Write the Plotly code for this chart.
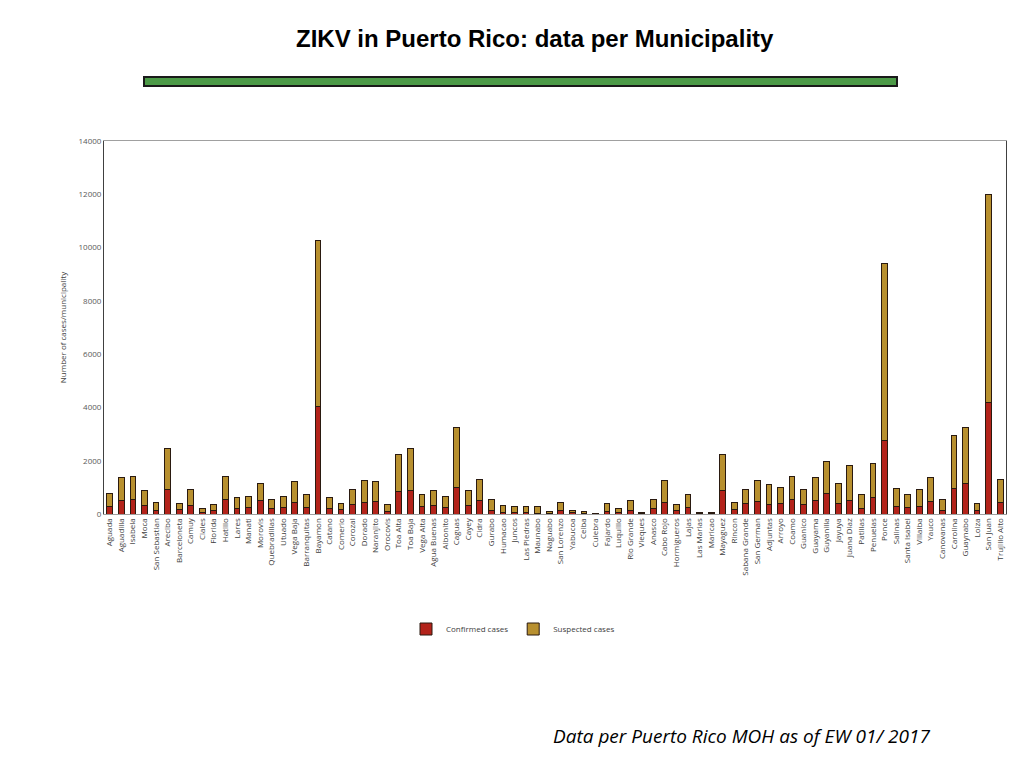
import plotly.graph_objects as go

municipalities = [
    "Aguada", "Aguadilla", "Isabela", "Moca", "San Sebastian", "Arecibo", "Barceloneta",
    "Camuy", "Ciales", "Florida", "Hatillo", "Lares", "Manati", "Morovis", "Quebradillas",
    "Utuado", "Vega Baja", "Barranquitas", "Bayamon", "Catano", "Comerio", "Corozal",
    "Dorado", "Naranjito", "Orocovis", "Toa Alta", "Toa Baja", "Vega Alta", "Agua Buenas",
    "Aibonito", "Caguas", "Cayey", "Cidra", "Gurabo", "Humacao", "Juncos", "Las Piedras",
    "Maunabo", "Naguabo", "San Lorenzo", "Yabucoa", "Ceiba", "Culebra", "Fajardo",
    "Luquillo", "Rio Grande", "Vieques", "Anasco", "Cabo Rojo", "Hormigueros", "Lajas",
    "Las Marias", "Maricao", "Mayaguez", "Rincon", "Sabana Grande", "San German",
    "Adjuntas", "Arroyo", "Coamo", "Guanico", "Guayama", "Guyanilla", "Jayuya",
    "Juana Diaz", "Patillas", "Penuelas", "Ponce", "Salinas", "Santa Isabel", "Villalba",
    "Yauco", "Canovanas", "Carolina", "Guaynabo", "Loiza", "San Juan", "Trujillo Alto",
]

confirmed = [
    275, 500, 550, 325, 138, 926, 175,
    325, 75, 125, 550, 200, 250, 500, 188,
    250, 438, 250, 4050, 213, 175, 350,
    438, 463, 100, 838, 876, 275, 325,
    250, 1013, 313, 500, 125, 75, 63, 75,
    25, 10, 125, 38, 25, 10, 100,
    75, 125, 25, 200, 438, 125, 250,
    25, 25, 876, 163, 388, 463,
    350, 388, 538, 350, 500, 763, 413,
    500, 213, 613, 2760, 300, 250, 275,
    463, 125, 951, 1151, 125, 4180, 438,
]

suspected = [
    488, 864, 839, 563, 312, 1551, 213,
    613, 150, 213, 876, 413, 400, 663, 375,
    400, 788, 488, 6230, 400, 225, 563,
    826, 751, 263, 1414, 1576, 451, 563,
    400, 2237, 575, 801, 413, 250, 237, 225,
    250, 90, 313, 87, 75, 15, 288,
    150, 375, 50, 338, 813, 238, 476,
    50, 50, 1364, 275, 550, 788,
    776, 600, 876, 563, 864, 1201, 725,
    1314, 513, 1288, 6660, 651, 476, 663,
    901, 413, 2014, 2079, 288, 7820, 863,
]

y_ticks = [0, 2000, 4000, 6000, 8000, 10000, 12000, 14000]

fig = go.Figure()
fig.add_trace(go.Bar(
    x=municipalities, y=confirmed, name="Confirmed cases",
    marker=dict(color="#B3231A", line=dict(color="#2a1a10", width=1)),
))
fig.add_trace(go.Bar(
    x=municipalities, y=suspected, name="Suspected cases",
    marker=dict(color="#B8902F", line=dict(color="#2a1a10", width=1)),
))

W, H = 1024, 768
L, R, T, B = 104, 1006, 141, 514
pw, ph = R - L, B - T

def px(x):
    return (x - L) / pw

def py(y):
    return (B - y) / ph

fig.update_layout(
    width=W, height=H,
    barmode="stack",
    bargap=0.5,
    plot_bgcolor="white",
    paper_bgcolor="white",
    margin=dict(l=L, r=W - R, t=T, b=H - B, pad=0),
    font=dict(family="Open Sans, Liberation Sans, sans-serif", color="#595959", size=8),
    showlegend=True,
    legend=dict(
        orientation="h", x=px(513), xanchor="center", y=py(629), yanchor="middle",
        font=dict(size=8, color="#404040"), itemwidth=30, traceorder="normal",
    ),
    xaxis=dict(
        tickangle=-90, tickfont=dict(size=8, color="#404040"),
        showline=True, linecolor="#a0a0a0", linewidth=1, mirror=True,
        ticks="", showgrid=False,
    ),
    yaxis=dict(
        range=[0, 14000], tickvals=y_ticks, tickformat="d", tickfont=dict(size=8, color="#595959"),
        showline=True, linecolor="#404040", linewidth=1, mirror=True,
        ticks="", showgrid=False, zeroline=False,
        title=dict(text="Number of cases/municipality", font=dict(size=8, color="#404040"), standoff=10),
    ),
    shapes=[
        dict(type="rect", xref="paper", yref="paper",
             x0=px(144), x1=px(897), y0=py(86), y1=py(77),
             fillcolor="#4C9A47", line=dict(color="#1a1a1a", width=2)),
    ],
    annotations=[
        dict(text="<b>ZIKV in Puerto Rico: data per Municipality</b>", xref="paper", yref="paper",
             x=px(535), y=py(38), xanchor="center", yanchor="middle", showarrow=False,
             font=dict(family="Liberation Sans Narrow, Liberation Sans, Arial, sans-serif", size=24, color="black")),
        dict(text="<i>Data per Puerto Rico MOH as of EW 01/ 2017</i>", xref="paper", yref="paper",
             x=px(551), y=py(736), xanchor="left", yanchor="middle", showarrow=False,
             font=dict(family="Open Sans, sans-serif", size=19, color="black")),
    ],
)

fig.write_html("out.html", config={"displayModeBar": False},
               post_script="document.body.style.margin='0';")
